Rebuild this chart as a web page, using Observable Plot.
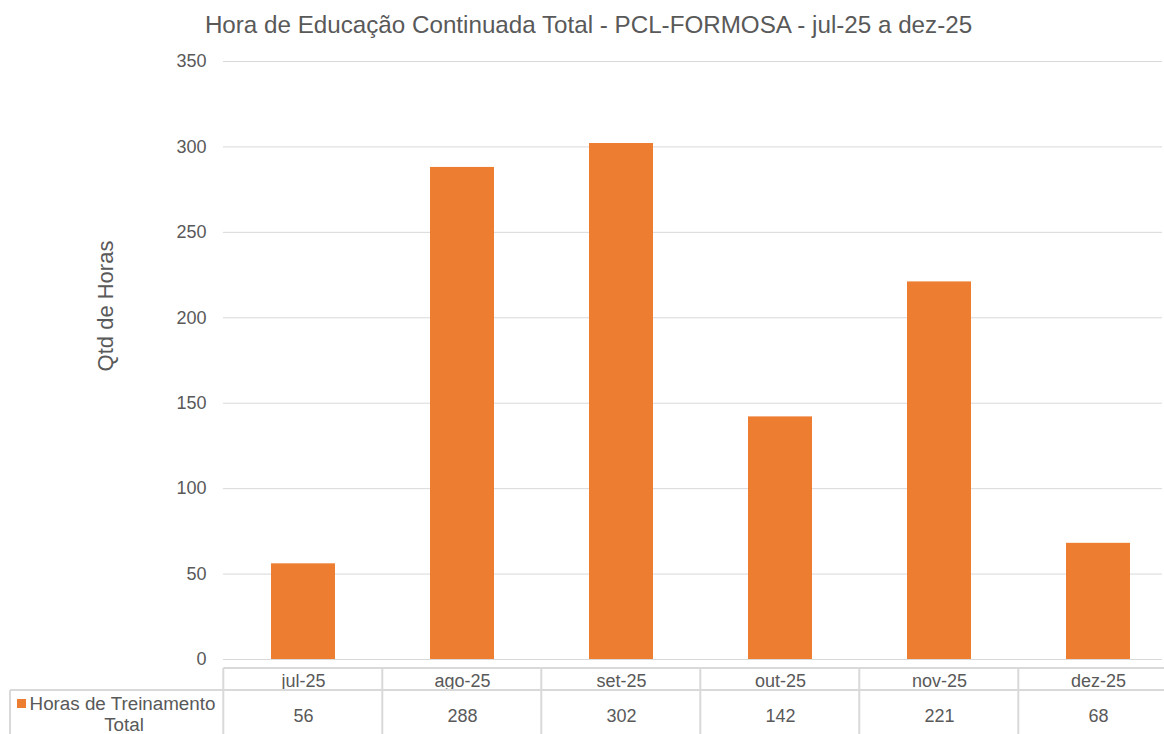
<!DOCTYPE html>
<html>
<head>
<meta charset="utf-8">
<script src="https://cdn.jsdelivr.net/npm/d3@7"></script>
<script src="https://cdn.jsdelivr.net/npm/@observablehq/plot@0.6"></script>
<style>
  html, body { margin: 0; padding: 0; background: #fff; }
  body { width: 1164px; height: 734px; overflow: hidden; font-family: "Liberation Sans", Arial, sans-serif; }
  #title { height: 45px; line-height: 49px; text-align: center; padding-left: 13px; box-sizing: border-box;
           font-size: 24.2px; color: #595959; white-space: nowrap; }
  svg { display: block; }
</style>
</head>
<body>
<div id="title"></div>
<div id="chart"></div>
<script>
const titleText = "Hora de Educação Continuada Total - PCL-FORMOSA - jul-25 a dez-25";
const yLabel = "Qtd de Horas";
const seriesName = ["Horas de Treinamento", "Total"];
const months = ["jul-25", "ago-25", "set-25", "out-25", "nov-25", "dez-25"];
const hours = [56, 288, 302, 142, 221, 68];
const yTicks = [0, 50, 100, 150, 200, 250, 300, 350];

const orange = "#ED7D31";
const textColor = "#595959";
const lineColor = "#D9D9D9";
const font = "Liberation Sans, Arial, sans-serif";

document.getElementById("title").textContent = titleText;

const data = months.map((m, i) => ({month: m, value: hours[i]}));

const chart = Plot.plot({
  width: 1164,
  height: 689,
  marginTop: 16,
  marginBottom: 75,
  marginLeft: 223,
  marginRight: 2,
  style: {fontFamily: font, fontSize: "18px", color: textColor, background: "#fff"},
  x: {domain: months, range: [223, 1177], paddingInner: 0.6, paddingOuter: 0.3, align: 0.5, axis: null},
  y: {domain: [0, 350], ticks: yTicks},
  marks: [
    Plot.gridY(yTicks, {stroke: lineColor, strokeOpacity: 1, strokeWidth: 1}),
    Plot.axisY(yTicks, {tickSize: 0, tickPadding: 17, label: null, fontSize: 18, fill: textColor}),
    Plot.barY(data, {x: "month", y: "value", fill: orange}),
    // table header: month labels
    Plot.text(data, {x: "month", y: () => 0, text: "month", dy: 22, fontSize: 18, fill: textColor}),
    // table values
    Plot.text(data, {x: "month", y: () => 0, text: d => String(d.value), dy: 57, fontSize: 18, fill: textColor})
  ]
});

document.getElementById("chart").appendChild(chart);

// Decoration: table lines and legend cell, derived from the x band scale
const xs = chart.scale("x");
const step = xs.step;
const edges = months.map(m => xs.apply(m) - 0.3 * step);
edges.push(xs.apply(months[months.length - 1]) + xs.bandwidth + 0.3 * step);
const y0 = chart.scale("y").apply(0);
const svg = d3.select(chart);
const g = svg.append("g").attr("stroke", lineColor).attr("stroke-width", 2).attr("fill", "none");
const hdrTop = y0 + 9, rowTop = y0 + 31, bottom = 689;
g.append("line").attr("x1", edges[0]).attr("x2", 1164).attr("y1", hdrTop).attr("y2", hdrTop);
g.append("line").attr("x1", 10).attr("x2", 1164).attr("y1", rowTop).attr("y2", rowTop);
g.append("line").attr("x1", 10).attr("x2", 10).attr("y1", rowTop).attr("y2", bottom);
edges.forEach(e => g.append("line").attr("x1", e).attr("x2", e).attr("y1", hdrTop).attr("y2", bottom));

// legend in table
const lg = svg.append("g").attr("font-family", font).attr("font-size", 18.8).attr("fill", textColor);
lg.append("rect").attr("x", 17).attr("y", rowTop + 9).attr("width", 9).attr("height", 9).attr("fill", orange);
lg.append("text").attr("x", 122.5).attr("y", rowTop + 13).attr("text-anchor", "middle").attr("dy", "0.35em").text(seriesName[0]);
lg.append("text").attr("x", 124).attr("y", rowTop + 34).attr("text-anchor", "middle").attr("dy", "0.35em").text(seriesName[1]);

// y axis title
svg.append("text").attr("transform", `translate(105, 261) rotate(-90)`)
  .attr("text-anchor", "middle").attr("dy", "0.35em")
  .attr("font-family", font).attr("font-size", 22).attr("fill", textColor).text(yLabel);
</script>
</body>
</html>
